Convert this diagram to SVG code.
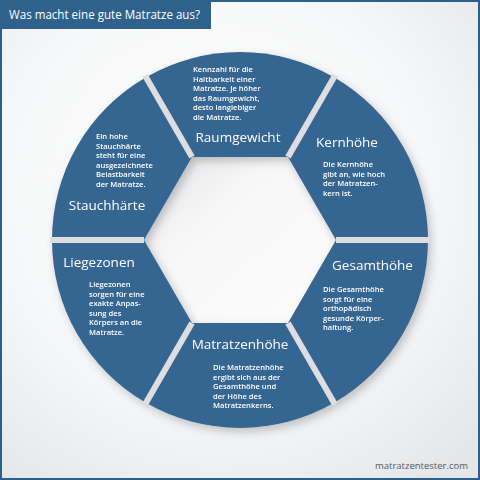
<svg xmlns="http://www.w3.org/2000/svg" width="480" height="480" viewBox="0 0 480 480">
  <defs>
    <radialGradient id="bg" cx="0.45" cy="0.4" r="0.75">
      <stop offset="0" stop-color="#ffffff"/>
      <stop offset="0.6" stop-color="#f6f7f8"/>
      <stop offset="1" stop-color="#e4e6e8"/>
    </radialGradient>
    <linearGradient id="hex" x1="0" y1="0" x2="1" y2="1">
      <stop offset="0" stop-color="#e2e3e5"/>
      <stop offset="0.35" stop-color="#f7f7f8"/>
      <stop offset="1" stop-color="#fcfcfc"/>
    </linearGradient>
    <filter id="sh" x="-10%" y="-10%" width="130%" height="130%">
      <feDropShadow dx="3" dy="4" stdDeviation="5" flood-color="#000" flood-opacity="0.22"/>
    </filter>
  </defs>
  <style>
    .seg{fill:#346591;}
    .gap{stroke:#dcdee1;stroke-width:6;stroke-linecap:butt;}
    .h{font-family:"Open Sans","Liberation Sans",sans-serif;font-size:13.5px;fill:#ffffff;text-anchor:middle;}
    .d{font-family:"Open Sans","Liberation Sans",sans-serif;font-size:7.6px;font-weight:600;fill:#ffffff;}
  </style>
  <rect x="0" y="0" width="480" height="480" fill="url(#bg)"/>
  <rect x="1" y="1" width="478" height="478" fill="none" stroke="#2e5f8a" stroke-width="2"/>

  <g id="title">
    <rect x="0" y="0" width="211" height="29" fill="#2e618c"/>
    <text x="9" y="19" font-family="'Open Sans','Liberation Sans',sans-serif" font-size="11.8" fill="#ffffff" textLength="191" lengthAdjust="spacingAndGlyphs">Was macht eine gute Matratze aus?</text>
  </g>

  <polygon points="336,240 288,156.9 192,156.9 144,240 192,323.1 288,323.1" fill="url(#hex)"/>

  <g filter="url(#sh)">
    <g id="raumgewicht">
      <path class="seg" d="M192,156.9 L288,156.9 L334,77.2 A188,188 0 0 0 146,77.2 Z"/>
      <text class="d" x="193"><tspan x="193" y="72">Kennzahl für die</tspan><tspan x="193" y="81.6">Haltbarkeit einer</tspan><tspan x="193" y="91.2">Matratze. Je höher</tspan><tspan x="193" y="100.8">das Raumgewicht,</tspan><tspan x="193" y="110.4">desto langlebiger</tspan><tspan x="193" y="120">die Matratze.</tspan></text>
      <text class="h" x="238" y="141.5">Raumgewicht</text>
    </g>
    <g id="kernhoehe">
      <path class="seg" d="M288,156.9 L336,240 L428,240 A188,188 0 0 0 334,77.2 Z"/>
      <text class="h" x="347" y="146.5">Kernhöhe</text>
      <text class="d"><tspan x="323" y="167">Die Kernhöhe</tspan><tspan x="323" y="176.5">gibt an, wie hoch</tspan><tspan x="323" y="186">der Matratzen-</tspan><tspan x="323" y="195.5">kern ist.</tspan></text>
    </g>
    <g id="gesamthoehe">
      <path class="seg" d="M336,240 L288,323.1 L334,402.8 A188,188 0 0 0 428,240 Z"/>
      <text class="h" x="372.5" y="269.5">Gesamthöhe</text>
      <text class="d"><tspan x="323" y="292">Die Gesamthöhe</tspan><tspan x="323" y="301.6">sorgt für eine</tspan><tspan x="323" y="311.2">orthopädisch</tspan><tspan x="323" y="320.8">gesunde Körper-</tspan><tspan x="323" y="330.4">haltung.</tspan></text>
    </g>
    <g id="matratzenhoehe">
      <path class="seg" d="M288,323.1 L192,323.1 L146,402.8 A188,188 0 0 0 334,402.8 Z"/>
      <text class="h" x="240" y="348.5">Matratzenhöhe</text>
      <text class="d"><tspan x="213" y="370">Die Matratzenhöhe</tspan><tspan x="213" y="379.6">ergibt sich aus der</tspan><tspan x="213" y="389.2">Gesamthöhe und</tspan><tspan x="213" y="398.8">der Höhe des</tspan><tspan x="213" y="408.4">Matratzenkerns.</tspan></text>
    </g>
    <g id="liegezonen">
      <path class="seg" d="M192,323.1 L144,240 L52,240 A188,188 0 0 0 146,402.8 Z"/>
      <text class="h" x="99" y="266.5">Liegezonen</text>
      <text class="d"><tspan x="89" y="287">Liegezonen</tspan><tspan x="89" y="296.5">sorgen für eine</tspan><tspan x="89" y="306">exakte Anpas-</tspan><tspan x="89" y="315.5">sung des</tspan><tspan x="89" y="325">Körpers an die</tspan><tspan x="89" y="334.5">Matratze.</tspan></text>
    </g>
    <g id="stauchhaerte">
      <path class="seg" d="M144,240 L192,156.9 L146,77.2 A188,188 0 0 0 52,240 Z"/>
      <text class="d"><tspan x="96" y="139">Ein hohe</tspan><tspan x="96" y="148.5">Stauchhärte</tspan><tspan x="96" y="158">steht für eine</tspan><tspan x="96" y="167.5">ausgezeichnete</tspan><tspan x="96" y="177">Belastbarkeit</tspan><tspan x="96" y="186.5">der Matratze.</tspan></text>
      <text class="h" x="107" y="209.5">Stauchhärte</text>
    </g>
  </g>

  <g id="connectors">
    <line class="gap" x1="336" y1="240" x2="430" y2="240"/>
    <line class="gap" x1="288" y1="156.9" x2="335" y2="75.5"/>
    <line class="gap" x1="192" y1="156.9" x2="145" y2="75.5"/>
    <line class="gap" x1="144" y1="240" x2="50" y2="240"/>
    <line class="gap" x1="192" y1="323.1" x2="145" y2="404.5"/>
    <line class="gap" x1="288" y1="323.1" x2="335" y2="404.5"/>
  </g>

  <text x="468" y="468.5" text-anchor="end" font-family="'Open Sans','Liberation Sans',sans-serif" font-size="9.5" fill="#555a60">matratzentester.com</text>
</svg>
